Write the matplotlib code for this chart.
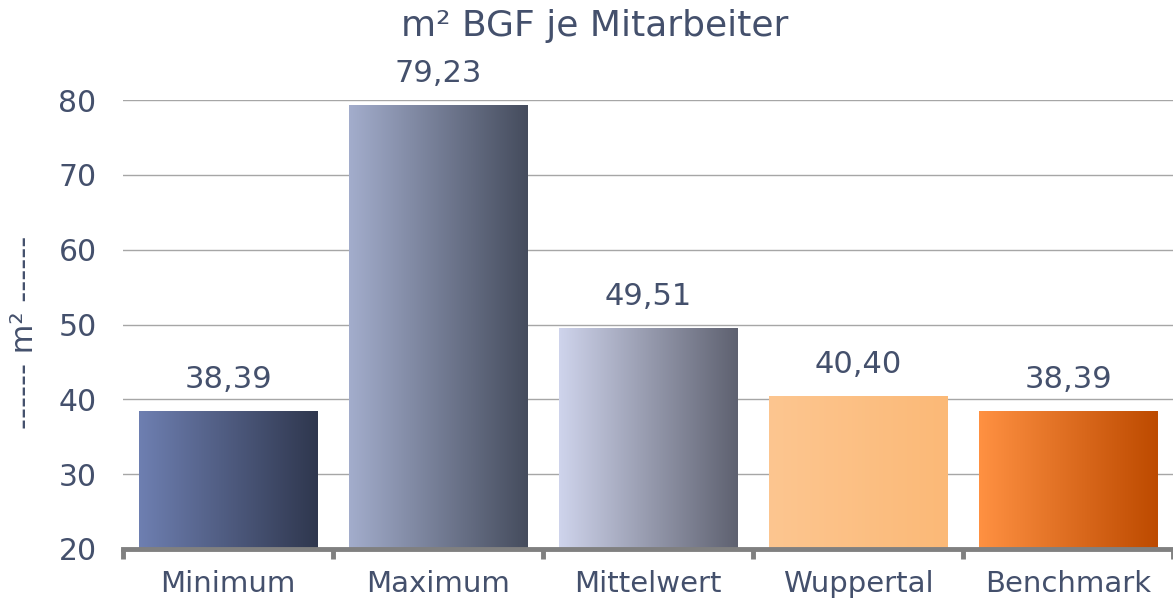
import matplotlib.pyplot as plt
import numpy as np
from matplotlib.colors import LinearSegmentedColormap

# Daten
kategorien = ['Minimum', 'Maximum', 'Mittelwert', 'Wuppertal', 'Benchmark']
werte = [38.39, 79.23, 49.51, 40.40, 38.39]
farben_links = ['#6e7fb1', '#a3adcc', '#cfd4ec', '#fdc690', '#ff9142']
farben_rechts = ['#2f374e', '#454c5d', '#5e6170', '#fbb977', '#bd4a00']

textfarbe = '#44506c'
plt.rcParams['font.family'] = ['DejaVu Sans']

fig = plt.figure(figsize=(11.73, 6), dpi=100)
ax = fig.add_axes([123 / 1173, 51 / 600, 1 - 123 / 1173, 449 / 600])

x = np.arange(len(kategorien))
bars = ax.bar(x, werte, width=0.85, bottom=0, color='none', zorder=3)
ax.set_ylim(20, 80)
ax.set_xlim(-0.5, len(kategorien) - 0.5)

# Farbverlauf in jedem Balken
grad = np.linspace(0, 1, 256).reshape(1, -1)
for b, c1, c2 in zip(bars, farben_links, farben_rechts):
    cmap = LinearSegmentedColormap.from_list('g', [c1, c2])
    x0, y0 = b.get_x(), 20
    x1, y1 = b.get_x() + b.get_width(), b.get_height()
    ax.imshow(grad, cmap=cmap, extent=[x0, x1, y0, y1], aspect='auto',
              zorder=3, interpolation='bicubic')

for b, v in zip(bars, werte):
    ax.annotate(f'{v:.2f}'.replace('.', ','),
                (b.get_x() + b.get_width() / 2, b.get_height()),
                xytext=(0, 17), textcoords='offset points',
                ha='center', va='baseline', fontsize=22, color=textfarbe)

ax.set_xlim(-0.5, len(kategorien) - 0.5)
ax.set_ylim(20, 80)
ax.set_yticks(range(20, 81, 10))
ax.yaxis.grid(True, color='#a6a6a6', linewidth=1, zorder=0)
ax.set_axisbelow(True)

for s in ['top', 'right', 'left']:
    ax.spines[s].set_visible(False)
ax.spines['bottom'].set_color('#808080')
ax.spines['bottom'].set_linewidth(3.5)
ax.spines['bottom'].set_zorder(4)

ax.set_xticks(x)
ax.set_xticklabels(kategorien)
ax.set_xticks(np.arange(-0.5, len(kategorien)), minor=True)
ax.tick_params(axis='x', which='major', length=0, pad=15, labelsize=21,
               labelcolor=textfarbe)
ax.tick_params(axis='x', which='minor', length=7, width=3.5, color='#808080')
ax.tick_params(axis='y', length=0, pad=19, labelsize=21.5, labelcolor=textfarbe)

fig.text(595 / 1173, 1 - 26 / 600, 'm² BGF je Mitarbeiter', ha='center',
         va='center', fontsize=26, color=textfarbe)
fig.text(25 / 1173, 1 - 332 / 600, '------ m² ------', rotation=90, ha='center',
         va='center', fontsize=22, color=textfarbe)

fig.savefig('out.png', dpi=100)
